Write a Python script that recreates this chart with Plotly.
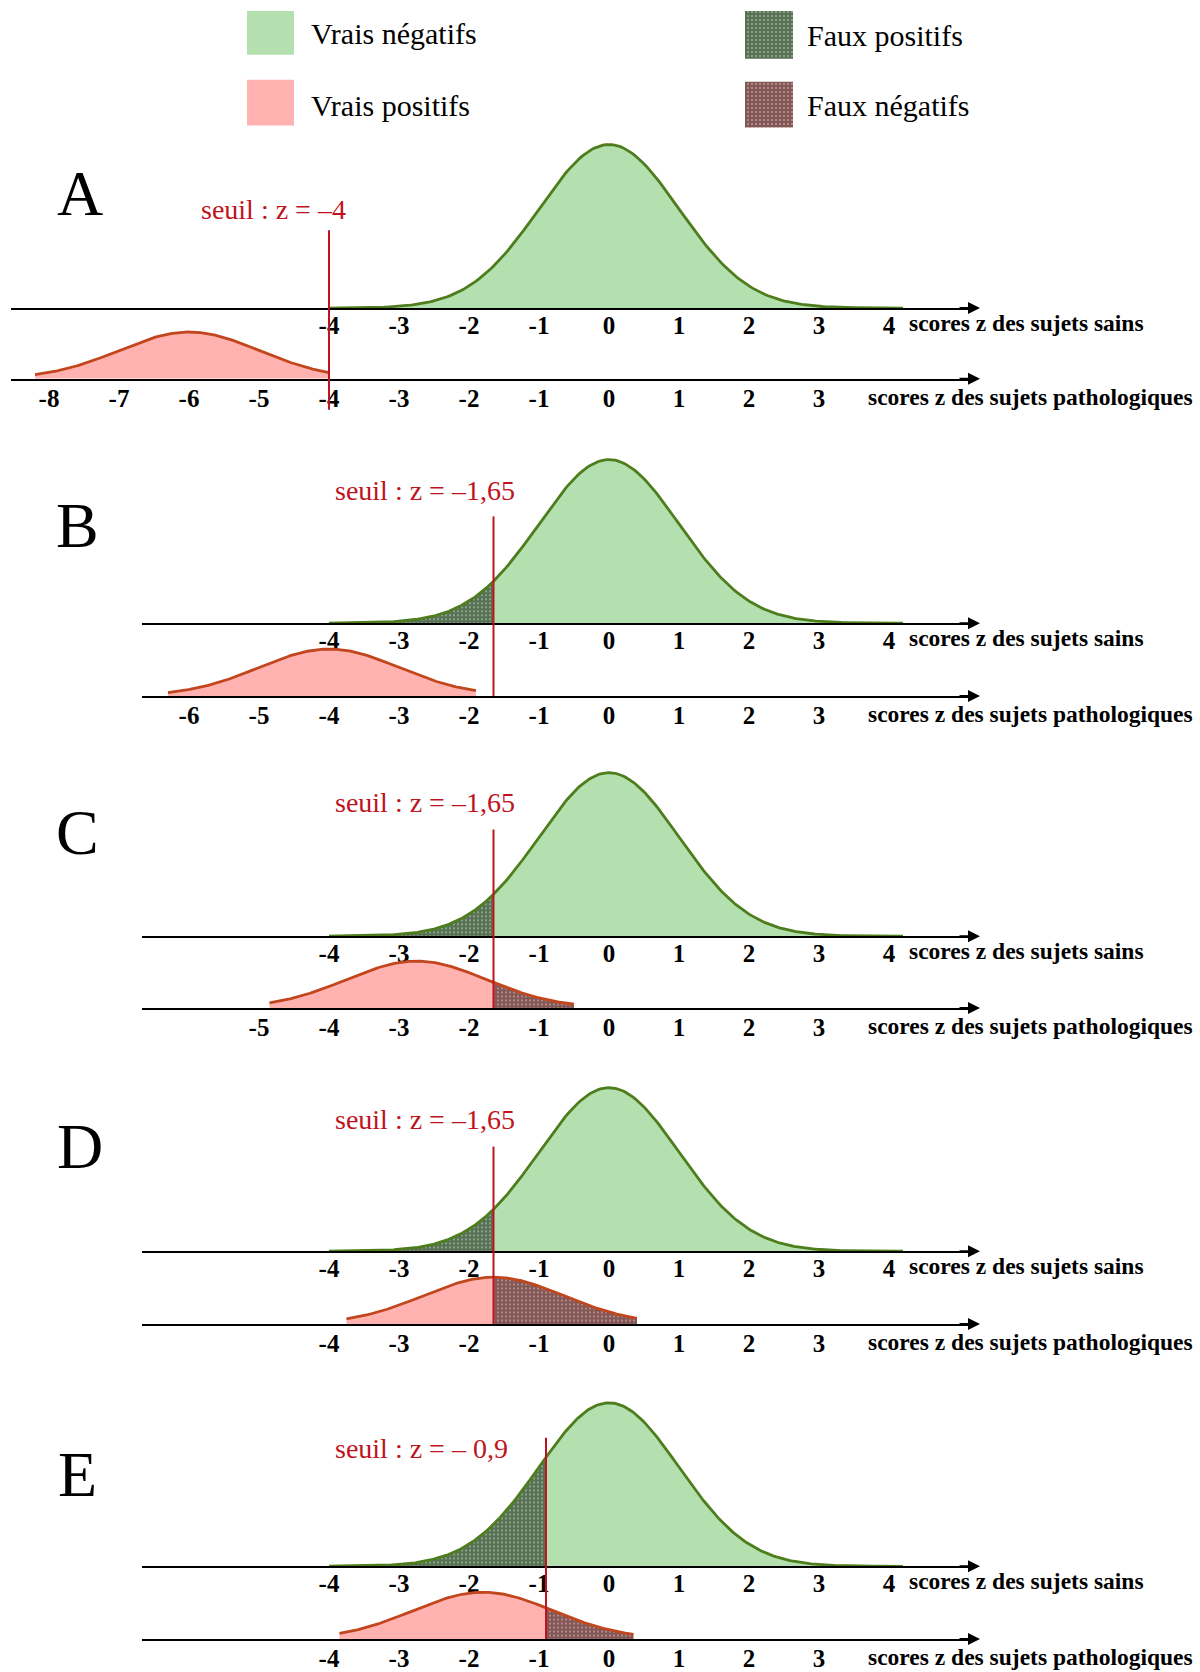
import numpy as np
import plotly.graph_objects as go

# ---------------- data ----------------
panels = ["A", "B", "C", "D", "E"]
thresholds = [-4.0, -1.65, -1.65, -1.65, -0.9]
threshold_labels = ["seuil : z = –4", "seuil : z = –1,65", "seuil : z = –1,65",
                    "seuil : z = –1,65", "seuil : z = – 0,9"]
healthy_mean = 0.0
patho_means = [-6.0, -4.0, -2.75, -1.65, -1.8]
healthy_extent = [-4.0, 4.2]
patho_extents = [(-8.2, -4.0), (-6.3, -1.9), (-4.85, -0.5), (-3.75, 0.4), (-3.85, 0.35)]
healthy_ticks = [-4, -3, -2, -1, 0, 1, 2, 3, 4]
patho_ticks = [
    [-8, -7, -6, -5, -4, -3, -2, -1, 0, 1, 2, 3],
    [-6, -5, -4, -3, -2, -1, 0, 1, 2, 3],
    [-5, -4, -3, -2, -1, 0, 1, 2, 3],
    [-4, -3, -2, -1, 0, 1, 2, 3],
    [-4, -3, -2, -1, 0, 1, 2, 3],
]
healthy_title = "scores z des sujets sains"
patho_title = "scores z des sujets pathologiques"
legend_labels = ["Vrais négatifs", "Vrais positifs", "Faux positifs", "Faux négatifs"]

# ---------------- layout constants (pixels) ----------------
W, H = 1200, 1672
Z0, UNIT = 609, 70
sains_base = [309, 625, 939, 1255, 1571]
patho_base = [380, 698, 1011, 1328, 1644]
GREEN_H, PINK_H = 164, 47
axis_start = [11, 142, 142, 142, 142]
axis_end = 972
arrow_tip = 980
red_top = [231, 518, 832, 1150, 1442]
red_bottom = [411, 698, 1011, 1328, 1644]
letter_pos = [(80, 194), (77, 527), (77, 835), (80, 1150), (77, 1479)]
seuil_pos = [(273, 210), (425, 492), (425, 805), (425, 1123), (421, 1453)]
YTOP = 1.1

GREEN_FILL = "#b3e0ae"
GREEN_LINE = "#4d7d1c"
PINK_FILL = "#ffb2b0"
PINK_LINE = "#c2461d"
RED = "#bf1420"
SERIF = "Liberation Serif"
HATCH = dict(shape="+", fgcolor="#000000", size=4, solidity=0.9)


def zpx(px):
    return (px - Z0) / UNIT


def pf(px):
    return 1 - px / H


def bell(xs, m):
    return np.exp(-0.5 * (xs - m) ** 2)


fig = go.Figure()
layout = {}
annotations = []
shapes = []

for i in range(5):
    t = thresholds[i]
    rows = [
        ("h", sains_base[i], GREEN_H, healthy_ticks, healthy_mean, healthy_extent,
         GREEN_FILL, GREEN_LINE),
        ("p", patho_base[i], PINK_H, patho_ticks[i], patho_means[i], patho_extents[i],
         PINK_FILL, PINK_LINE),
    ]
    for j, (kind, base, h, ticks, m, ext, fillc, linec) in enumerate(rows):
        n = 2 * i + j + 1
        xa = "x" if n == 1 else f"x{n}"
        ya = "y" if n == 1 else f"y{n}"
        xk = "xaxis" if n == 1 else f"xaxis{n}"
        yk = "yaxis" if n == 1 else f"yaxis{n}"
        layout[xk] = dict(
            domain=[axis_start[i] / W, axis_end / W],
            range=[zpx(axis_start[i]), zpx(axis_end)],
            anchor=ya, showline=True, linecolor="black", linewidth=2,
            ticks="", tickvals=ticks, ticktext=[str(v) for v in ticks],
            tickfont=dict(family=SERIF, size=25, color="black", weight="bold"),
            ticklabelstandoff=-6 if kind == "h" else -4,
            showgrid=False, zeroline=False, fixedrange=True,
        )
        layout[yk] = dict(
            domain=[pf(base), pf(base - YTOP * h)], range=[0, YTOP],
            anchor=xa, visible=False, fixedrange=True,
        )
        lo, hi = ext
        # region left of threshold (positives)
        if t > lo:
            xs = np.linspace(lo, min(t, hi), 200)
            left = dict(x=xs, y=bell(xs, m), mode="lines",
                        line=dict(color=linec, width=2.8), fill="tozeroy",
                        xaxis=xa, yaxis=ya, hoverinfo="skip", showlegend=False)
            if kind == "h":  # false positives: hatched
                left.update(fillcolor=GREEN_FILL,
                            fillpattern=dict(HATCH, bgcolor=GREEN_FILL))
            else:  # true positives
                left.update(fillcolor=PINK_FILL)
            fig.add_trace(go.Scatter(**left))
        # region right of threshold (negatives)
        if t < hi:
            xs = np.linspace(max(t, lo), hi, 200)
            right = dict(x=xs, y=bell(xs, m), mode="lines",
                         line=dict(color=linec, width=2.8), fill="tozeroy",
                         xaxis=xa, yaxis=ya, hoverinfo="skip", showlegend=False)
            if kind == "h":  # true negatives
                right.update(fillcolor=GREEN_FILL)
            else:  # false negatives: hatched
                right.update(fillcolor=PINK_FILL,
                             fillpattern=dict(HATCH, bgcolor=PINK_FILL))
            fig.add_trace(go.Scatter(**right))

        # arrow head at the end of the axis
        annotations.append(dict(
            x=arrow_tip / W, y=pf(base), xref="paper", yref="paper",
            ax=-22, ay=0, axref="pixel", ayref="pixel", text="", showarrow=True,
            arrowhead=2, arrowsize=1.2, arrowwidth=2, arrowcolor="black",
            standoff=0, startstandoff=0,
        ))
        # axis title
        if kind == "h":
            annotations.append(dict(
                x=907 / W, y=pf(base + 15), xref="paper", yref="paper",
                xanchor="left", yanchor="middle", showarrow=False, text=healthy_title,
                font=dict(family=SERIF, size=23.5, color="black", weight="bold")))
        else:
            annotations.append(dict(
                x=866 / W, y=pf(base + 18), xref="paper", yref="paper",
                xanchor="left", yanchor="middle", showarrow=False, text=patho_title,
                font=dict(family=SERIF, size=23.5, color="black", weight="bold")))

    # threshold line
    xa_h = "x" if i == 0 else f"x{2 * i + 1}"
    shapes.append(dict(type="line", xref=xa_h, yref="paper", x0=t, x1=t,
                       y0=pf(red_bottom[i]), y1=pf(red_top[i]),
                       line=dict(color=RED, width=2), layer="above"))
    annotations.append(dict(
        x=seuil_pos[i][0] / W, y=pf(seuil_pos[i][1]), xref="paper", yref="paper",
        xanchor="center", yanchor="middle", showarrow=False, text=threshold_labels[i],
        font=dict(family=SERIF, size=28, color=RED)))
    annotations.append(dict(
        x=letter_pos[i][0] / W, y=pf(letter_pos[i][1]), xref="paper", yref="paper",
        xanchor="center", yanchor="middle", showarrow=False, text=panels[i],
        font=dict(family=SERIF, size=64, color="black")))

# ---------------- custom legend ----------------
leg_boxes = [(247, 11, 294, 55), (247, 80, 294, 126), (745, 11, 793, 59), (745, 82, 793, 128)]
leg_fills = [GREEN_FILL, PINK_FILL, GREEN_FILL, PINK_FILL]
leg_hatched = [False, False, True, True]
leg_text_pos = [(309, 34), (309, 106), (805, 36), (805, 106)]
layout["xaxis11"] = dict(domain=[0, 1], range=[0, W], anchor="y11", visible=False,
                         fixedrange=True)
layout["yaxis11"] = dict(domain=[0, 1], range=[H, 0], anchor="x11", visible=False,
                         fixedrange=True)
for (x0, y0, x1, y1), fc, hat, lab, (tx, ty) in zip(leg_boxes, leg_fills, leg_hatched,
                                                    legend_labels, leg_text_pos):
    tr = dict(x=[x0, x1, x1, x0, x0], y=[y0, y0, y1, y1, y0], mode="lines",
              line=dict(width=0, color=fc), fill="toself", fillcolor=fc,
              xaxis="x11", yaxis="y11", hoverinfo="skip", showlegend=False)
    if hat:
        tr["fillpattern"] = dict(HATCH, bgcolor=fc)
    fig.add_trace(go.Scatter(**tr))
    annotations.append(dict(x=tx / W, y=pf(ty), xref="paper", yref="paper",
                            xanchor="left", yanchor="middle", showarrow=False, text=lab,
                            font=dict(family=SERIF, size=30, color="black")))

fig.update_layout(
    width=W, height=H, margin=dict(l=0, r=0, t=0, b=0),
    paper_bgcolor="white", plot_bgcolor="rgba(0,0,0,0)",
    showlegend=False, annotations=annotations, shapes=shapes, **layout,
)
fig.write_html("out.html", config={"displayModeBar": False},
               post_script="document.body.style.margin='0';"
                           "document.body.style.overflow='hidden';")
